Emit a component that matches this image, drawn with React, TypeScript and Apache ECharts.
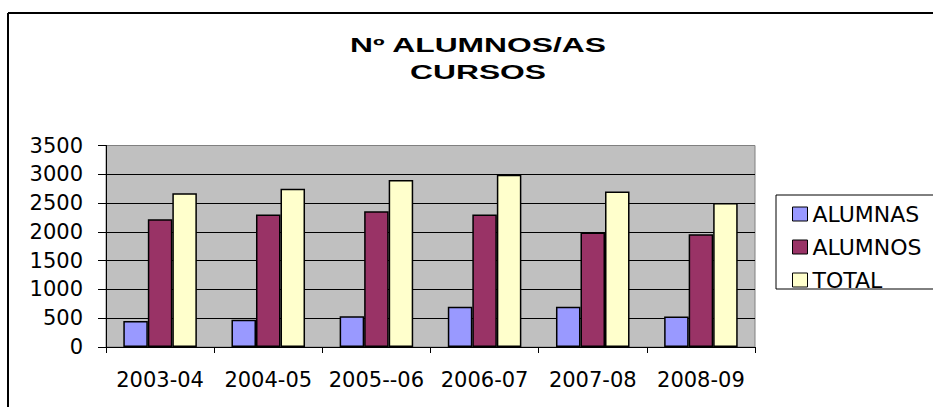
import React, { useEffect, useRef } from "react";
import * as echarts from "echarts";

const categories = ["2003-04", "2004-05", "2005--06", "2006-07", "2007-08", "2008-09"];
const alumnas = [450, 475, 535, 700, 700, 530];
const alumnos = [2220, 2300, 2360, 2300, 1990, 1960];
const total = [2670, 2750, 2900, 2990, 2700, 2500];
const titleLines = ["Nº ALUMNOS/AS", "CURSOS"];

export default function App() {
  const ref = useRef<HTMLDivElement>(null);
  useEffect(() => {
    if (!ref.current) return;
    const chart = echarts.init(ref.current, undefined, { renderer: "svg" });
    const barStyle = (color: string) => ({ color, borderColor: "#000", borderWidth: 1.5 });
    chart.setOption({
      animation: false,
      backgroundColor: "#fff",
      graphic: [
        { type: "line", shape: { x1: 8, y1: 13, x2: 933, y2: 13 }, style: { stroke: "#000", lineWidth: 2 } },
        { type: "line", shape: { x1: 8, y1: 13, x2: 8, y2: 407 }, style: { stroke: "#000", lineWidth: 2 } },
        {
          type: "text", x: 478, y: 45, scaleX: 1.59,
          style: { text: titleLines[0], align: "center", verticalAlign: "middle", fontFamily: "Liberation Sans", fontWeight: "bold", fontSize: 20, fill: "#000" },
        },
        {
          type: "text", x: 478, y: 72, scaleX: 1.59,
          style: { text: titleLines[1], align: "center", verticalAlign: "middle", fontFamily: "Liberation Sans", fontWeight: "bold", fontSize: 20, fill: "#000" },
        },
        { type: "rect", shape: { x: 776, y: 195, width: 180, height: 94 }, style: { fill: "#fff", stroke: "#000", lineWidth: 1 }, z: -1 },
      ],
      legend: {
        orient: "vertical",
        left: 787,
        top: 198,
        itemWidth: 15,
        itemHeight: 14,
        itemGap: 11,
        icon: "rect",
        itemStyle: { borderColor: "#000", borderWidth: 1 },
        textStyle: { fontFamily: "DejaVu Sans", fontSize: 22, color: "#000" },
        data: ["ALUMNAS", "ALUMNOS", "TOTAL"],
      },
      grid: {
        left: 106, right: 178, top: 145.5, bottom: 60,
        show: true, backgroundColor: "#C0C0C0", borderColor: "#808080", borderWidth: 1,
      },
      xAxis: {
        type: "category",
        data: categories,
        axisLine: { lineStyle: { color: "#000", width: 1 } },
        axisTick: { show: true, length: 6, lineStyle: { color: "#000" } },
        axisLabel: { interval: 0, margin: 22, fontFamily: "DejaVu Sans", fontSize: 21, color: "#000" },
      },
      yAxis: {
        type: "value",
        min: 0, max: 3500, interval: 500,
        axisLine: { show: true, lineStyle: { color: "#000", width: 1 } },
        axisTick: { show: true, length: 8, lineStyle: { color: "#000" } },
        axisLabel: { margin: 23, fontFamily: "DejaVu Sans", fontSize: 21, color: "#000", formatter: (v: number) => String(v) },
        splitLine: { show: true, showMaxLine: false, lineStyle: { color: "#000", width: 1 } },
      },
      series: [
        { name: "ALUMNAS", type: "bar", data: alumnas, itemStyle: barStyle("#9999FF"), barGap: "0%", barCategoryGap: "32%" },
        { name: "ALUMNOS", type: "bar", data: alumnos, itemStyle: barStyle("#993366") },
        { name: "TOTAL", type: "bar", data: total, itemStyle: barStyle("#FFFFCC") },
      ],
    });
    return () => chart.dispose();
  }, []);
  return <div ref={ref} style={{ position: "fixed", left: 0, top: 0, width: 933, height: 407 }} />;
}
